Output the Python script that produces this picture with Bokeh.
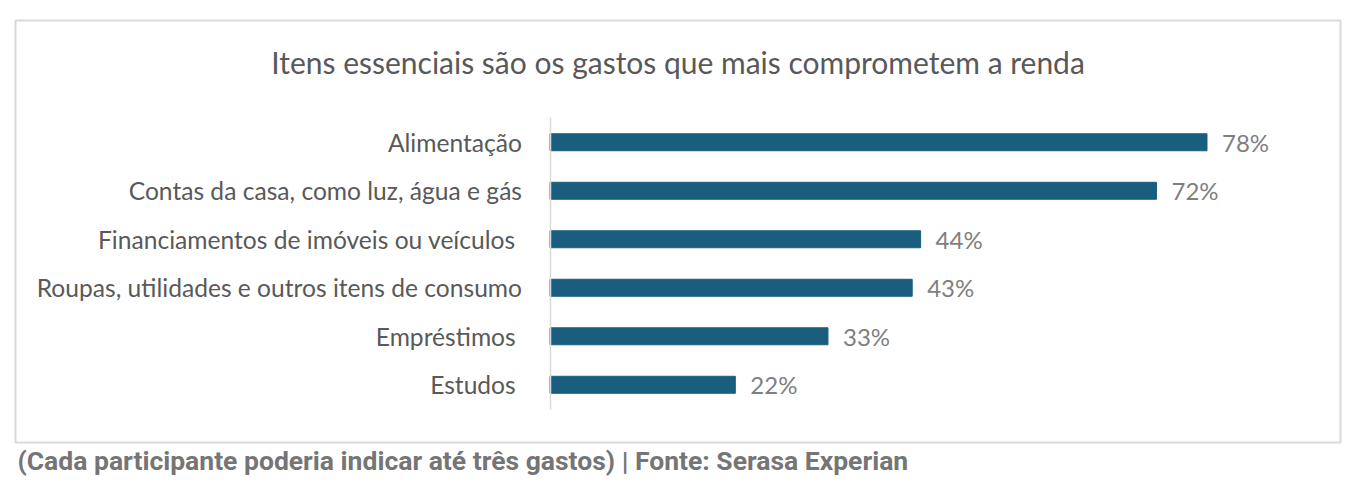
from bokeh.plotting import figure
from bokeh.models import Range1d, LinearAxis, FixedTicker, Label, Title, ColumnDataSource
from bokeh.core.properties import value
from bokeh.embed import file_html
from bokeh.resources import INLINE

categories = [
    "Alimentação",
    "Contas da casa, como luz, água e gás",
    "Financiamentos de imóveis ou veículos ",
    "Roupas, utilidades e outros itens de consumo",
    "Empréstimos ",
    "Estudos ",
]
values = [78, 72, 44, 43, 33, 22]
value_labels = ["78%", "72%", "44%", "43%", "33%", "22%"]
title_text = "Itens essenciais são os gastos que mais comprometem a renda"
footer_text = "(Cada participante poderia indicar até três gastos) | Fonte: Serasa Experian"

W, H = 1350, 478
FONT = "Lato"
GRAY = "#595959"

idx = list(range(len(categories)))
src = ColumnDataSource(dict(pos=idx, cat=categories, val=values, lab=value_labels))

p = figure(width=W, height=H, output_backend="svg", toolbar_location=None,
           x_range=Range1d(-63.46, 93.85), y_range=Range1d(6.19, -2.51),
           x_axis_location=None, y_axis_location=None,
           min_border_left=15, min_border_right=10,
           min_border_top=20, min_border_bottom=36)
p.outline_line_color = "#d9d9d9"
p.outline_line_width = 2
p.background_fill_color = "white"
p.border_fill_color = "white"
p.grid.visible = False

yaxis = LinearAxis(fixed_location=0, bounds=(-0.5, 5.5),
                   ticker=FixedTicker(ticks=idx),
                   major_label_overrides={i: c for i, c in zip(idx, categories)})
yaxis.axis_line_color = "#d9d9d9"
yaxis.axis_line_width = 1.5
yaxis.major_tick_line_color = None
yaxis.minor_tick_line_color = None
yaxis.major_label_standoff = 22
yaxis.major_label_text_font = FONT
yaxis.major_label_text_font_size = "24.6px"
yaxis.major_label_text_color = GRAY
p.add_layout(yaxis, "left")

p.hbar(y="pos", right="val", left=0, height=0.35, source=src,
       fill_color="#1a5e7f", line_color="#1a5e7f")
p.text(x="val", y="pos", text="lab", source=src, x_offset=15,
       text_align="left", text_baseline="middle",
       text_font=value(FONT), text_font_size="24px", text_color="#7f7f7f")

p.add_layout(Label(x=15.2, y=-1.66, text=title_text,
                   text_align="center", text_baseline="middle",
                   text_font=FONT, text_font_size="30px", text_color=GRAY))

footer = Title(text=footer_text, align="left", offset=2, standoff=0,
               text_font="Roboto", text_font_style="bold",
               text_font_size="26.5px", text_color="#757575")
p.add_layout(footer, "below")

open("out.html", "w").write(file_html(p, INLINE))
